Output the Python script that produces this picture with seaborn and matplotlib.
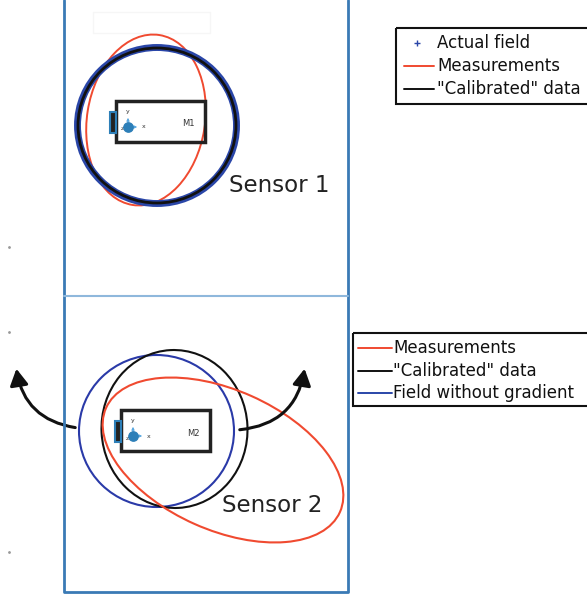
import matplotlib
matplotlib.use("Agg")
import matplotlib.pyplot as plt
import seaborn as sns
from matplotlib.patches import Ellipse, Rectangle, FancyArrowPatch

"""
Sensor calibration sketch: two sensor panels with measured / calibrated fields.
All positions are in picture pixels (x right, y down).
"""

# top panel (sensor 1): centre x, centre y, width, height, angle
s1_names = ["Measurements", "Actual field", "Calibrated"]
s1_cx = [146, 157, 157]
s1_cy = [120, 125.5, 125.5]
s1_w = [118, 159, 158]
s1_h = [172, 156, 155]
s1_ang = [9, 0, 0]
s1_col = ["#f04a30", "#2a46a8", "#111111"]
s1_lw = [1.4, 5.0, 2.0]

# bottom panel (sensor 2)
s2_names = ["Field without gradient", "Calibrated", "Measurements"]
s2_cx = [156.5, 174.5, 223]
s2_cy = [431, 429, 460]
s2_w = [155, 146, 256]
s2_h = [152, 158, 140]
s2_ang = [0, -3, 24]
s2_col = ["#2a3aa8", "#111111", "#f04a30"]
s2_lw = [1.5, 1.5, 1.5]

legend1_labels = ["Actual field", "Measurements", "\"Calibrated\" data"]
legend2_labels = ["Measurements", "\"Calibrated\" data", "Field without gradient"]

sns.set_style("white")
plt.rcParams["font.family"] = ["DejaVu Sans"]

fig = plt.figure(figsize=(5.87, 5.97), dpi=100)
ax = fig.add_axes([0, 0, 1, 1])
ax.set_xlim(0, 587)
ax.set_ylim(597, 0)
ax.axis("off")

# frame of the two panels
frame_col = "#3a7ab5"
ax.plot([64, 64, 348, 348], [0, 592, 592, 0], color=frame_col, lw=2)
ax.plot([64, 348], [296, 296], color="#8fb8dc", lw=1.5)
ax.add_patch(Rectangle((93, 12), 117, 21, fill=False, ec="#f6f6f6", lw=1))

# stray tick marks on the left
ax.scatter([9, 9, 9], [247, 332, 552], s=1, color="#999999")


def draw_ellipses(cx, cy, w, h, ang, col, lw):
    for i in range(len(cx)):
        ax.add_patch(Ellipse((cx[i], cy[i]), w[i], h[i], angle=ang[i],
                             fill=False, ec=col[i], lw=lw[i]))


def draw_sensor(x0, y0, label):
    # sensor body
    ax.add_patch(Rectangle((x0, y0), 89, 41, fill=False, ec="#222222", lw=2.5))
    ax.add_patch(Rectangle((x0 - 6, y0 + 11), 6, 21, fc="#222222", ec="#2d7fb8", lw=1.5))
    dx, dy = x0 + 12, y0 + 26
    ax.annotate("", xy=(dx, dy - 12), xytext=(dx, dy),
                arrowprops=dict(arrowstyle="-|>", color="#5aa8e0", lw=0.8, mutation_scale=4))
    ax.annotate("", xy=(dx + 12, dy), xytext=(dx, dy),
                arrowprops=dict(arrowstyle="-|>", color="#5aa8e0", lw=0.8, mutation_scale=4))
    ax.scatter([dx], [dy], s=45, color="#2d7fb8", zorder=5)
    ax.text(dx, dy - 13, "y", fontsize=4.5, ha="center", va="bottom", color="#333333")
    ax.text(dx + 14, dy, "x", fontsize=4.5, ha="left", va="center", color="#333333")
    ax.text(dx - 4, dy + 2, "z", fontsize=4.5, ha="right", va="center", color="#333333")
    ax.text(x0 + 72, y0 + 23, label, fontsize=6, ha="center", va="center", color="#333333")


draw_ellipses(s1_cx, s1_cy, s1_w, s1_h, s1_ang, s1_col, s1_lw)
draw_sensor(116, 101, "M1")
ax.text(279, 186, "Sensor 1", fontsize=16.5, ha="center", va="center", color="#222222")

draw_ellipses(s2_cx, s2_cy, s2_w, s2_h, s2_ang, s2_col, s2_lw)
draw_sensor(121, 410, "M2")
ax.text(272, 506, "Sensor 2", fontsize=16.5, ha="center", va="center", color="#222222")

# rotation arrows
ax.add_patch(FancyArrowPatch((78, 428), (16, 366), connectionstyle="arc3,rad=-0.38",
                             arrowstyle="-|>,head_length=0.9,head_width=0.5",
                             mutation_scale=11, color="#111111", lw=2.2))
ax.add_patch(FancyArrowPatch((237, 430), (305, 366), connectionstyle="arc3,rad=0.4",
                             arrowstyle="-|>,head_length=0.9,head_width=0.5",
                             mutation_scale=11, color="#111111", lw=2.2))


def draw_legend(x0, y0, y1, ys, labels, handles, line_x, text_x):
    ax.add_patch(Rectangle((x0, y0), 300, y1 - y0, fill=False, ec="#111111", lw=1.5))
    for y, lab, hnd in zip(ys, labels, handles):
        if hnd[0] == "+":
            ax.scatter([line_x[0] + 13], [y], marker="+", s=14, color="#2a46a8", lw=1)
        else:
            ax.plot(line_x, [y, y], color=hnd[1], lw=1.4)
        ax.text(text_x, y, lab, fontsize=12, ha="left", va="center", color="#111111")


draw_legend(396, 28, 104, [43, 66, 89], legend1_labels,
            [("+", "#2a46a8"), ("-", "#f04a30"), ("-", "#111111")], [404, 434], 437)
draw_legend(353, 333, 406, [348, 371, 393], legend2_labels,
            [("-", "#f04a30"), ("-", "#111111"), ("-", "#2a46a8")], [358, 392], 393)

fig.savefig("out.png", dpi=100)
